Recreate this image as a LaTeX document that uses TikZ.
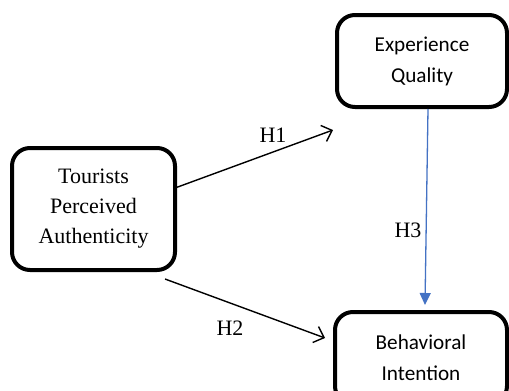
\documentclass[tikz,border=0pt]{standalone}
\usepackage{fontspec}
\setmainfont{Liberation Serif}
\newfontfamily\calib{Carlito}
\usetikzlibrary{arrows.meta}
\definecolor{arrblue}{RGB}{68,114,196}
\tikzset{
  boxnode/.style={draw=black, line width=4pt, rounded corners=18pt, align=center, inner sep=0pt},
  serifbox/.style={boxnode, font=\fontsize{22}{30}\selectfont},
  sansbox/.style={boxnode, font=\calib\fontsize{21.2}{31}\selectfont},
  hyparrow/.style={draw=black, line width=1.4pt, -{Straight Barb[length=9pt,width=17pt,line width=1.4pt]}},
  bluearrow/.style={draw=arrblue, line width=1.3pt, -{Triangle[length=12pt,width=11pt]}},
  hlabel/.style={font=\fontsize{22}{26}\selectfont, inner sep=0pt}
}
\begin{document}
\begin{tikzpicture}[x=1pt,y=-1pt]
\useasboundingbox (0,0) rectangle (509,391);
\clip (0,0) rectangle (509,391);
\fill[white] (0,0) rectangle (509,391);
\node[serifbox, minimum width=163pt, minimum height=122pt] (tpa) at (93.5,209) {Tourists\\Perceived\\Authenticity};
\node[sansbox, minimum width=170pt, minimum height=92pt] (eq) at (422,61) {Experience\\Quality};
\node[sansbox, minimum width=172pt, minimum height=92pt] (bi) at (421,358) {Behavioral\\Intention};
\draw[hyparrow] ([xshift=-2pt,yshift=21pt]tpa.east) -- ([xshift=-2pt,yshift=-21pt]eq.south west);
\draw[hyparrow] ([xshift=-12pt,yshift=-7pt]tpa.south east) -- ([xshift=-8pt,yshift=20pt]bi.west);
\draw[bluearrow] ([xshift=6pt]eq.south) -- ([xshift=4pt,yshift=5pt]bi.north);
\node[hlabel] (h1) at (273,135) {H1};
\node[hlabel] (h2) at (230,328) {H2};
\node[hlabel] (h3) at (408,230) {H3};
\end{tikzpicture}
\end{document}
